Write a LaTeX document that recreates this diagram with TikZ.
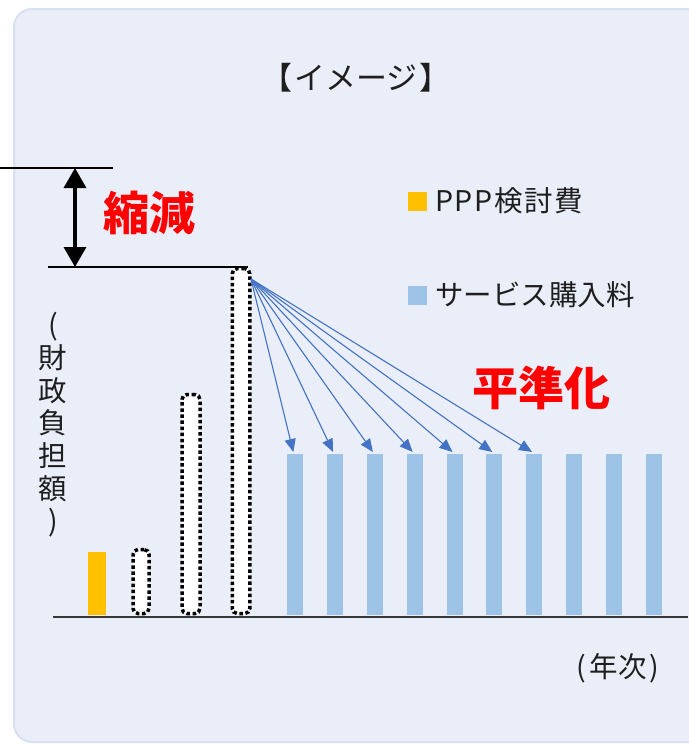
\documentclass[tikz,border=0pt]{standalone}
\usepackage{fontspec}
\setmainfont{Noto Sans CJK JP}
\usetikzlibrary{arrows.meta,calc}

\definecolor{panelbg}{RGB}{233,238,248}
\definecolor{panelline}{RGB}{216,225,242}
\definecolor{svcblue}{RGB}{157,195,230}
\definecolor{pppgold}{RGB}{255,192,0}
\definecolor{arrowblue}{RGB}{68,114,196}
\definecolor{inkgray}{RGB}{30,30,30}
\definecolor{accentred}{RGB}{255,0,0}
\definecolor{axisgray}{RGB}{55,55,55}

\tikzset{
  txt/.style={text=inkgray, font=\fontsize{28.5}{32}\selectfont, inner sep=0pt},
  redword/.style={text=accentred, font=\fontsize{46}{50}\selectfont\bfseries, inner sep=0pt},
  svcbar/.style={fill=svcblue, minimum width=16pt, minimum height=161pt,
    inner sep=0pt, outer sep=0pt, anchor=south},
  pppbar/.style={fill=pppgold, minimum width=18pt, minimum height=63pt,
    inner sep=0pt, outer sep=0pt, anchor=south},
  planbar/.style={draw=black, fill=white, line width=3.5pt,
    dash pattern=on 3.5pt off 2.6pt, rounded corners=5pt,
    inner sep=0pt, outer sep=0pt, anchor=south},
  keybox/.style={minimum size=19pt, inner sep=0pt, outer sep=0pt},
  spread/.style={draw=arrowblue, line width=1.1pt,
    -{Triangle[length=13pt,width=11pt]}},
  gap/.style={draw=black, line width=3.5pt,
    {Triangle[length=20pt,width=22pt]}-{Triangle[length=20pt,width=22pt]}},
  level/.style={draw=black, line width=1.3pt},
  axisline/.style={draw=axisgray, line width=1.6pt},
}

\begin{document}
\begin{tikzpicture}[x=1pt,y=-1pt]
  \useasboundingbox (0,0) rectangle (688,744);

  % background panel
  \filldraw[fill=panelbg, draw=panelline, line width=2pt, rounded corners=18pt]
    (14,9) rectangle (720,742);

  % title
  \node[txt, font=\fontsize{31}{34}\selectfont] (title) at (356,78)
    {【\hspace{2pt}イメージ\hspace{2pt}】};

  % former and reduced burden levels
  \coordinate (oldL) at (0,168);
  \coordinate (oldR) at (113,168);
  \coordinate (newL) at (48,267);
  \coordinate (newR) at (248,267);
  \coordinate (oldA) at (75,168);
  \coordinate (newA) at (75,267);
  \draw[level] (oldL) -- (oldR);
  \draw[level] (newL) -- (newR);
  \draw[gap] (oldA) -- (newA);
  \node[redword] (cut) at (149,213) {縮減};

  % vertical axis label
  \node[txt, align=center, font=\fontsize{28.5}{32.7}\selectfont] (ylab) at (53,425)
    {(\\財\\政\\負\\担\\額\\)};

  % PPP study cost and conventional outlays
  \node[pppbar] (ppp) at (97,615) {};
  \node[planbar, minimum width=16pt, minimum height=64pt] (p1) at (141,613.5) {};
  \node[planbar, minimum width=18pt, minimum height=219pt] (p2) at (191,613.5) {};
  \node[planbar, minimum width=17.5pt, minimum height=345pt] (p3) at (241,613.5) {};

  % service purchase payments
  \foreach \i in {1,...,10}
    \node[svcbar] (s\i) at ({295.3+39.8*(\i-1)},615) {};

  % spreading arrows
  \coordinate (src) at (251,279);
  \foreach \i in {1,...,7}
    \draw[spread] (src) -- ($(s\i.north)+(-2,-2)$);
  \node[redword] (flat) at (541,388) {平準化};

  % time axis
  \coordinate (axL) at (53,617);
  \coordinate (axR) at (688,617);
  \draw[axisline] (axL) -- (axR);
  \node[txt] (xlab) at (618,668) {(\hspace{3pt}年次\hspace{3pt})};

  % legend
  \node[keybox, fill=pppgold] (k1) at (417,201) {};
  \node[txt, anchor=west] (k1t) at (435,201)
    {\addfontfeature{LetterSpace=6}PPP検討費};
  \node[keybox, fill=svcblue] (k2) at (417,295) {};
  \node[txt, anchor=west] (k2t) at (435,295) {サービス購入料};
\end{tikzpicture}
\end{document}
